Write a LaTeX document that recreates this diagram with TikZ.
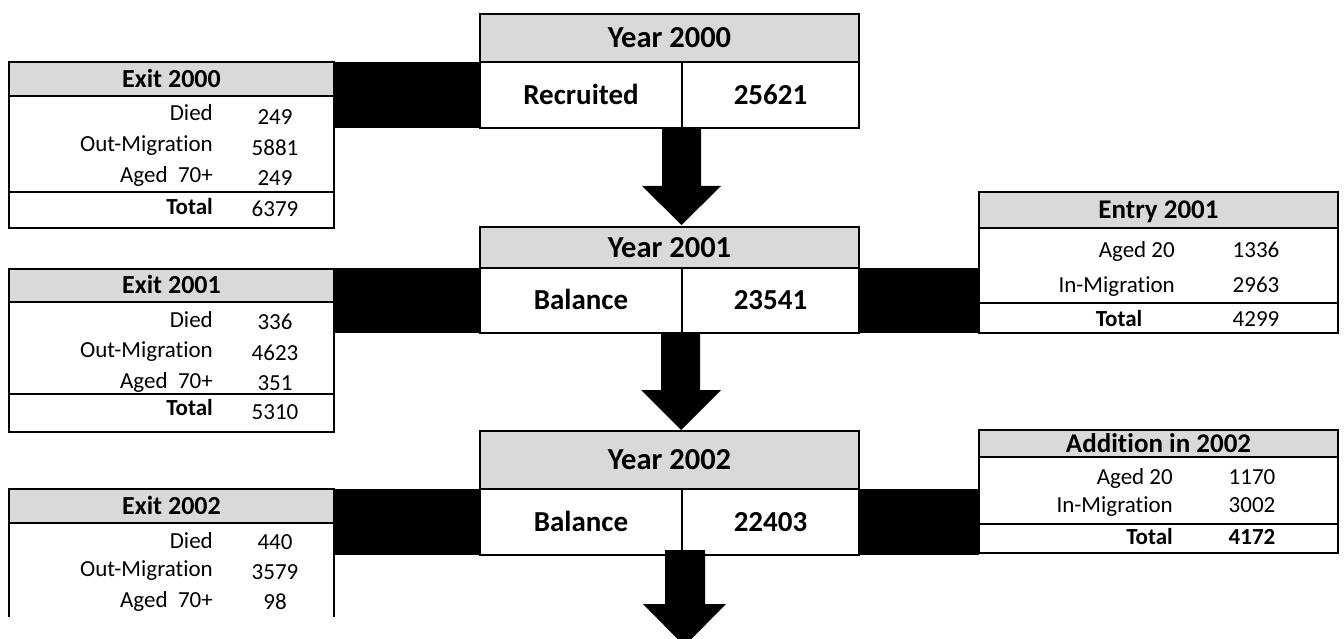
\documentclass[tikz,border=0pt]{standalone}
\usepackage{fontspec}
\setmainfont{Carlito}[RawFeature={-liga;-clig;-dlig;-calt}]
\definecolor{hdrgray}{HTML}{D9D9D9}
\newcommand\fyr{\fontsize{30.5}{36}\selectfont\bfseries}
\newcommand\frw{\fontsize{29}{35}\selectfont\bfseries}
\newcommand\fex{\fontsize{26}{31}\selectfont\bfseries}
\newcommand\fen{\fontsize{27}{32}\selectfont\bfseries}
\newcommand\flb{\fontsize{23}{28}\selectfont}
\tikzset{
  bx/.style={draw, line width=2pt, inner sep=0pt, outer sep=0pt},
  hdr/.style={bx, fill=hdrgray},
  yrtxt/.style={font=\fyr, text height=19.6pt, text depth=0pt},
  rwtxt/.style={font=\frw, text height=18.7pt, text depth=0pt},
  extxt/.style={font=\fex, text height=16.7pt, text depth=0pt},
  entxt/.style={font=\fen, text height=17.4pt, text depth=0pt},
  lab/.style={font=\flb, text height=14.8pt, text depth=0pt, inner sep=0pt, anchor=east},
  num/.style={font=\flb, text height=14.8pt, text depth=0pt, inner sep=0pt},
  blab/.style={lab, font=\flb\bfseries},
  bnum/.style={num, font=\flb\bfseries},
  bar/.style={fill=black},
  bigarrow/.style={fill=black}
}
\begin{document}
\begin{tikzpicture}[x=1pt,y=-1pt]
\useasboundingbox (0,0) rectangle (1344,639);
\clip (0,0) rectangle (1344,639);

% ---------- Year boxes ----------
\node[hdr, yrtxt, minimum width=379pt, minimum height=48pt] (y2000h) at (669.5,38) {Year 2000};
\node[bx, rwtxt, minimum width=202pt, minimum height=66pt] (y2000l) at (581,95) {Recruited};
\node[bx, rwtxt, minimum width=177pt, minimum height=66pt] (y2000r) at (770.5,95) {25621};

\node[hdr, yrtxt, minimum width=379pt, minimum height=41pt] (y2001h) at (669.5,247.5) {Year 2001};
\node[bx, rwtxt, minimum width=202pt, minimum height=65pt] (y2001l) at (581,300.5) {Balance};
\node[bx, rwtxt, minimum width=177pt, minimum height=65pt] (y2001r) at (770.5,300.5) {23541};

\node[hdr, yrtxt, minimum width=379pt, minimum height=58pt] (y2002h) at (669.5,460) {Year 2002};
\node[bx, rwtxt, minimum width=202pt, minimum height=66pt] (y2002l) at (581,522) {Balance};
\node[bx, rwtxt, minimum width=177pt, minimum height=66pt] (y2002r) at (770.5,522) {22403};

% ---------- Exit 2000 ----------
\node[bx, minimum width=325pt, minimum height=166pt] (exit2000) at (171.5,145) {};
\node[hdr, extxt, minimum width=325pt, minimum height=34pt] (exit2000h) at (171.5,79) {Exit 2000};
\draw[line width=2pt] (exit2000.west |- 0,192) -- (exit2000.east |- 0,192);
\node[lab] (e0a) at (213,113) {Died};           \node[num] (e0an) at (275,117) {249};
\node[lab] (e0b) at (213,144) {Out-Migration};  \node[num] (e0bn) at (275,148) {5881};
\node[lab] (e0c) at (213,175) {Aged\ \ 70+};    \node[num] (e0cn) at (275,178) {249};
\node[blab] (e0d) at (213,207) {Total};         \node[num] (e0dn) at (275,209) {6379};

% ---------- Exit 2001 ----------
\node[bx, minimum width=325pt, minimum height=163pt] (exit2001) at (171.5,350.5) {};
\node[hdr, extxt, minimum width=325pt, minimum height=33pt] (exit2001h) at (171.5,285.5) {Exit 2001};
\draw[line width=2pt] (exit2001.west |- 0,394) -- (exit2001.east |- 0,394);
\node[lab] (e1a) at (213,320) {Died};           \node[num] (e1an) at (275,322) {336};
\node[lab] (e1b) at (213,350) {Out-Migration};  \node[num] (e1bn) at (275,353) {4623};
\node[lab] (e1c) at (213,381) {Aged\ \ 70+};    \node[num] (e1cn) at (275,383) {351};
\node[blab] (e1d) at (213,408) {Total};         \node[num] (e1dn) at (275,412) {5310};

% ---------- Exit 2002 (open at bottom) ----------
\node[hdr, extxt, minimum width=325pt, minimum height=34pt] (exit2002h) at (171.5,506) {Exit 2002};
\draw[line width=2pt] (exit2002h.south west) -- ++(0,94);
\draw[line width=2pt] (exit2002h.south east) -- ++(0,94);
\node[lab] (e2a) at (213,541) {Died};           \node[num] (e2an) at (275,542) {440};
\node[lab] (e2b) at (213,569) {Out-Migration};  \node[num] (e2bn) at (275,572) {3579};
\node[lab] (e2c) at (213,600) {Aged\ \ 70+};    \node[num] (e2cn) at (275,602) {98};

% ---------- Entry 2001 ----------
\node[bx, minimum width=359pt, minimum height=141pt] (entry2001) at (1158.5,262.5) {};
\node[hdr, entxt, minimum width=359pt, minimum height=36pt] (entry2001h) at (1158.5,210) {Entry 2001};
\draw[line width=2pt] (entry2001.west |- 0,303) -- (entry2001.east |- 0,303);
\node[lab] (n1a) at (1175,250) {Aged 20};       \node[num] (n1an) at (1256,250) {1336};
\node[lab] (n1b) at (1175,285) {In-Migration};  \node[num] (n1bn) at (1256,285) {2963};
\node[num, font=\flb\bfseries] (n1c) at (1119,319) {Total};
\node[num] (n1cn) at (1256,319) {4299};

% ---------- Addition in 2002 ----------
\node[bx, minimum width=359pt, minimum height=123pt] (add2002) at (1158.5,491.5) {};
\node[hdr, entxt, minimum width=359pt, minimum height=27pt] (add2002h) at (1158.5,443.5) {Addition in 2002};
\draw[line width=2pt] (add2002.west |- 0,524) -- (add2002.east |- 0,524);
\node[lab] (n2a) at (1173,477) {Aged 20};       \node[num] (n2an) at (1252,477) {1170};
\node[lab] (n2b) at (1173,505) {In-Migration};  \node[num] (n2bn) at (1252,505) {3002};
\node[blab] (n2c) at (1173,537) {Total};        \node[bnum] (n2cn) at (1252,537) {4172};

% ---------- Black connector bars ----------
\fill[bar] (exit2000.north east) rectangle (y2000l.south west);
\fill[bar] (y2001l.north west -| exit2001.east) rectangle (y2001l.south west);
\fill[bar] (y2002l.north west -| exit2002h.east) rectangle (y2002l.south west);
\fill[bar] (y2001r.north east) rectangle (entry2001.west |- y2001r.south);
\fill[bar] (y2002r.north east) rectangle (add2002.west |- y2002r.south);

% ---------- Down arrows ----------
\fill[bigarrow] (662,128) -- (701,128) -- (701,186) -- (721,186) -- (681.5,225)
  -- (642,186) -- (662,186) -- cycle;
\fill[bigarrow] (661,333) -- (700,333) -- (700,390) -- (721,390) -- (681,430)
  -- (641,390) -- (661,390) -- cycle;
\fill[bigarrow] (665,550) -- (705,550) -- (705,604) -- (726,604) -- (684.5,646)
  -- (643,604) -- (665,604) -- cycle;
\end{tikzpicture}
\end{document}
